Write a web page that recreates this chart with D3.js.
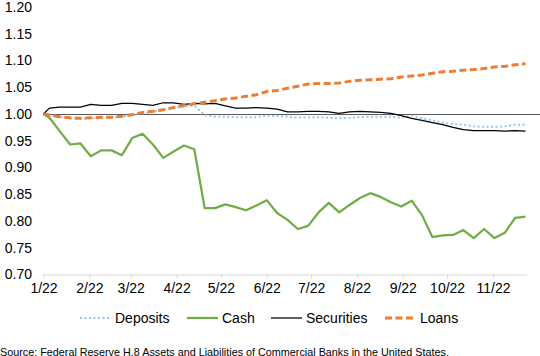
<!DOCTYPE html>
<html>
<head>
<meta charset="utf-8">
<script src="https://cdn.jsdelivr.net/npm/d3@7"></script>
<style>
  html, body { margin: 0; padding: 0; background: #fff; }
  svg { display: block; font-family: "Liberation Sans", Arial, sans-serif; }
</style>
</head>
<body>
<svg id="chart" width="540" height="356"></svg>
<script>
const dates = ["2022-01-01","2022-01-05","2022-01-12","2022-01-19","2022-01-26","2022-02-02","2022-02-09","2022-02-16","2022-02-23",
  "2022-03-02","2022-03-09","2022-03-16","2022-03-23","2022-03-30","2022-04-06","2022-04-13","2022-04-20","2022-04-27",
  "2022-05-04","2022-05-11","2022-05-18","2022-05-25","2022-06-01","2022-06-08","2022-06-15","2022-06-22","2022-06-29",
  "2022-07-06","2022-07-13","2022-07-20","2022-07-27","2022-08-03","2022-08-10","2022-08-17","2022-08-24","2022-08-31",
  "2022-09-07","2022-09-14","2022-09-21","2022-09-28","2022-10-05","2022-10-12","2022-10-19","2022-10-26","2022-11-02",
  "2022-11-09","2022-11-16","2022-11-23"];

const deposits = [1.000,0.998,0.994,0.992,0.991,0.992,0.992,0.993,0.995,0.998,1.001,1.004,1.008,1.011,1.014,1.016,
  0.998,0.995,0.995,0.994,0.994,0.994,0.997,0.996,0.995,0.993,0.994,0.994,0.993,0.992,0.993,0.994,0.995,0.995,0.995,
  0.993,0.997,0.992,0.988,0.984,0.981,0.980,0.977,0.976,0.976,0.977,0.980,0.980];

const cash = [1.000,0.993,0.968,0.943,0.945,0.921,0.932,0.932,0.923,0.955,0.963,0.943,0.918,0.930,0.941,0.934,
  0.824,0.824,0.831,0.826,0.820,0.829,0.839,0.815,0.802,0.785,0.791,0.816,0.834,0.816,0.830,0.843,0.852,0.845,0.835,
  0.827,0.838,0.811,0.770,0.773,0.774,0.783,0.768,0.785,0.768,0.778,0.806,0.808];

const securities = [1.000,1.011,1.013,1.013,1.013,1.018,1.016,1.016,1.020,1.020,1.018,1.016,1.021,1.021,1.018,1.020,
  1.019,1.020,1.015,1.011,1.011,1.012,1.011,1.009,1.004,1.004,1.005,1.005,1.004,1.001,1.004,1.005,1.004,1.003,1.001,
  0.997,0.992,0.988,0.984,0.980,0.975,0.971,0.969,0.969,0.969,0.968,0.969,0.968];

const loans = [1.000,0.998,0.995,0.993,0.992,0.993,0.994,0.994,0.996,0.999,1.003,1.005,1.008,1.012,1.016,1.019,
  1.022,1.025,1.028,1.030,1.033,1.036,1.042,1.044,1.048,1.052,1.056,1.057,1.057,1.058,1.061,1.063,1.064,1.065,1.066,
  1.069,1.071,1.073,1.076,1.079,1.080,1.082,1.083,1.085,1.088,1.089,1.092,1.094];

const yTicks = [0.70,0.75,0.80,0.85,0.90,0.95,1.00,1.05,1.10,1.15,1.20];
const seriesNames = ["Deposits","Cash","Securities","Loans"];
const sourceText = "Source: Federal Reserve H.8 Assets and Liabilities of Commercial Banks in the United States.";

const parse = d3.timeParse("%Y-%m-%d");
const dt = dates.map(parse);

const svg = d3.select("#chart");

const x = d3.scaleTime()
  .domain([dt[0], dt[dt.length - 1]])
  .range([43.5, 525.5]);
const y = d3.scaleLinear().domain([0.70, 1.20]).range([274.5, 7]);

// y labels
svg.append("g").selectAll("text").data(yTicks).join("text")
  .attr("x", 32).attr("y", d => y(d)).attr("dy", "0.35em")
  .attr("text-anchor", "end").attr("font-size", 14).attr("fill", "#000")
  .text(d => d3.format(".2f")(d));

// x axis
const monthTicks = d3.timeMonth.range(parse("2022-01-01"), parse("2022-12-01"));
const xAxis = d3.axisBottom(x).tickValues(monthTicks).tickFormat(d3.timeFormat("%-m/%y"))
  .tickSizeInner(4).tickSizeOuter(0).tickPadding(5);
const gx = svg.append("g").attr("transform", `translate(0,${y(0.70)})`).call(xAxis);
gx.select(".domain").attr("stroke", "#d9d9d9").attr("stroke-width", 1)
  .attr("d", `M43.5,0.5H527`);
gx.selectAll(".tick line").attr("stroke", "#d9d9d9");
gx.selectAll(".tick text").attr("font-size", 14).attr("fill", "#000")
  .attr("font-family", "Liberation Sans, Arial, sans-serif");

// reference line at 1.00
svg.append("line")
  .attr("x1", x(dt[0])).attr("x2", 540)
  .attr("y1", Math.round(y(1.0)) + 0.5).attr("y2", Math.round(y(1.0)) + 0.5)
  .attr("stroke", "#595959").attr("stroke-width", 1);

const styles = {
  Deposits: { color: "#9dc3e6", width: 2, dash: "2,2.5", cap: "butt" },
  Cash: { color: "#70ad47", width: 2.25, dash: null, cap: "butt" },
  Securities: { color: "#000000", width: 1.25, dash: null, cap: "butt" },
  Loans: { color: "#ed7d31", width: 3, dash: "7,3.5", cap: "butt" }
};
const values = { Deposits: deposits, Cash: cash, Securities: securities, Loans: loans };

const line = d3.line().x((d, i) => x(dt[i])).y(d => y(d));

seriesNames.forEach(name => {
  const s = styles[name];
  svg.append("path")
    .datum(values[name])
    .attr("fill", "none")
    .attr("stroke", s.color)
    .attr("stroke-width", s.width)
    .attr("stroke-linejoin", "round")
    .attr("stroke-linecap", s.cap)
    .attr("stroke-dasharray", s.dash)
    .attr("d", line);
});

// legend
const legendX = [80, 187, 271, 385];
const lg = svg.append("g");
seriesNames.forEach((name, i) => {
  const s = styles[name];
  const g = lg.append("g").attr("transform", `translate(${legendX[i]},318)`);
  g.append("line").attr("x1", 0).attr("x2", 31).attr("y1", 0).attr("y2", 0)
    .attr("stroke", s.color).attr("stroke-width", s.width).attr("stroke-dasharray", s.dash);
  g.append("text").attr("x", 35).attr("y", 0).attr("dy", "0.35em")
    .attr("font-size", 14).attr("fill", "#000").text(name);
});

// source
svg.append("text").attr("x", 0).attr("y", 355.5)
  .attr("font-size", 10.8).attr("fill", "#000").text(sourceText);
</script>
</body>
</html>
